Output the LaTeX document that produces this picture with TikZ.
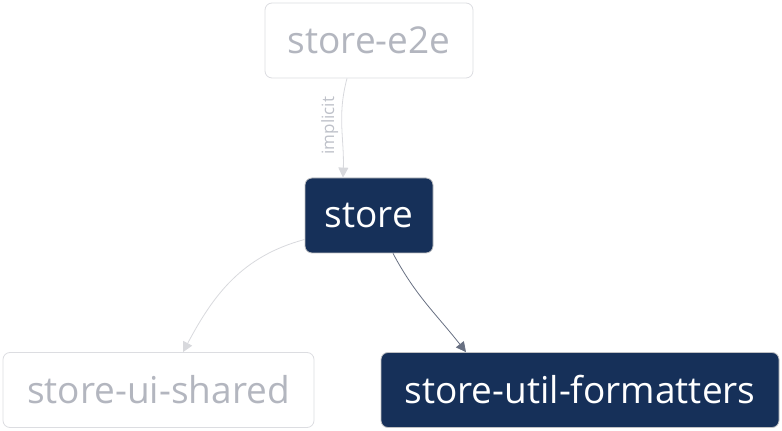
\documentclass[tikz,border=0pt]{standalone}
\usepackage{fontspec}
\setmainfont{Open Sans}
\usepackage{tikz}
\usetikzlibrary{arrows.meta}
\definecolor{navy}{HTML}{163059}
\definecolor{faintline}{HTML}{DCDDE1}
\definecolor{fainttext}{HTML}{B3B6BF}
\definecolor{faintedge}{HTML}{D8D9DD}
\definecolor{darkedge}{HTML}{687082}
\tikzset{
  proj/.style={draw,rounded corners=7pt,line width=0.8pt,minimum height=75pt,font=\fontsize{37}{40}\selectfont,inner sep=0pt},
  faintproj/.style={proj,draw=faintline,text=fainttext,fill=white},
  darkproj/.style={proj,draw=faintline!70!gray,fill=navy,text=white},
  dep/.style={line width=0.8pt,-{Triangle[length=10pt,width=10pt]}},
}
\begin{document}
\begin{tikzpicture}[x=1pt,y=1pt]
              \useasboundingbox(0,0)rectangle(782,431);
              \node[faintproj,minimum width=208pt](e2e)at(369,390.5){store-e2e};
              \node[darkproj,minimum width=128pt](store)at(369,215.5){store};
              \node[faintproj,minimum width=311pt](uishared)at(158.5,41){store-ui-shared};
              \node[darkproj,minimum width=398pt](formatters)at(580,41){store-util-formatters};
              \draw[dep,faintedge]([xshift=-22pt]e2e.south) to[out=-105,in=88]
                node[pos=0.48,xshift=-12pt,rotate=90,text=fainttext!85!white,font=\fontsize{17}{18}\selectfont]{implicit}
                ([xshift=-26pt]store.north);
              \draw[dep,faintedge]([yshift=-24pt]store.west) to[out=195,in=62] ([xshift=24.5pt]uishared.north);
              \draw[dep,darkedge]([xshift=24pt]store.south) to[out=-62,in=128] ([xshift=-114pt]formatters.north);
            \end{tikzpicture}
\end{document}
